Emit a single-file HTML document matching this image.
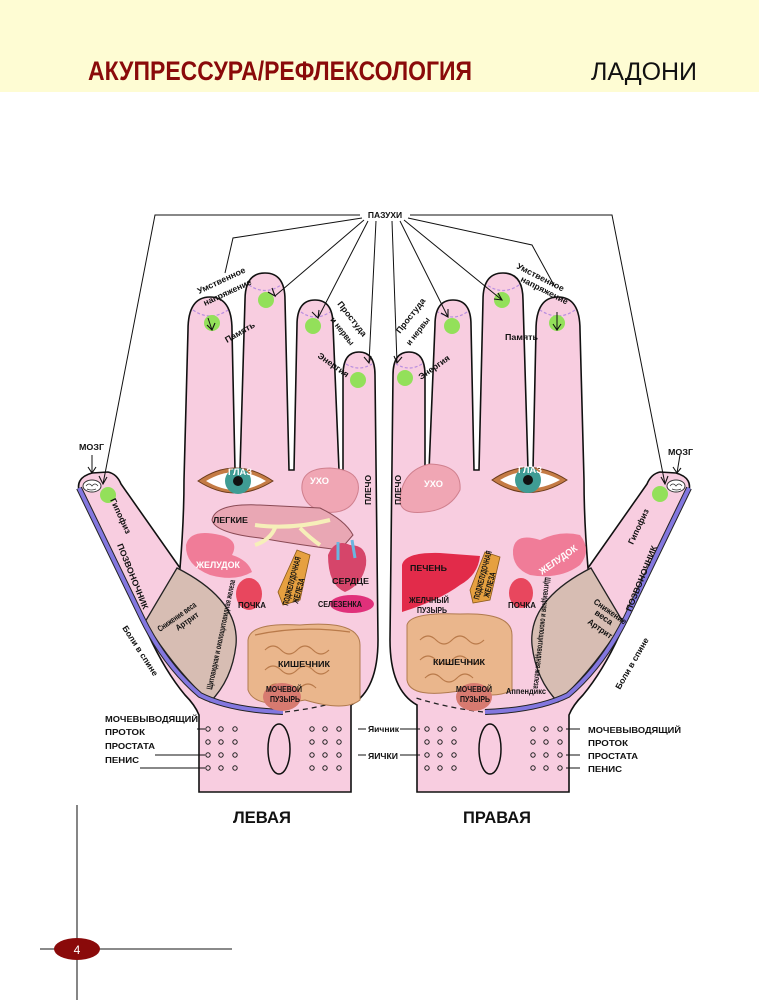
<!DOCTYPE html>
<html><head><meta charset="utf-8"><style>
html,body{margin:0;padding:0;background:#fff;}
svg{display:block;}
text{font-family:"Liberation Sans Narrow","Liberation Sans",sans-serif;font-weight:bold;}
.l{font-size:8.5px;fill:#111;}
.w{font-size:9.5px;fill:#fff;}
</style></head><body>
<svg width="759" height="1000" viewBox="0 0 759 1000" xmlns="http://www.w3.org/2000/svg">
<rect x="0" y="0" width="759" height="92" fill="#fefcd3"/>
<text x="88" y="80" font-size="27" fill="#8a0a0a" textLength="384" lengthAdjust="spacingAndGlyphs">АКУПРЕССУРА/РЕФЛЕКСОЛОГИЯ</text>
<text x="591" y="80" font-size="25" fill="#111" style="font-weight:normal;font-family:'Liberation Sans',sans-serif" textLength="106" lengthAdjust="spacing">ЛАДОНИ</text>

<defs>
<g id="hand">
<path d="M188,330 Q188,297 210,297 Q232,297 232,330 L235,470 L240,470 L245,300 Q245,273 265,273 Q285,273 285,300 L289,470 L294,470 L297,325 Q297,300 315,300 Q333,300 333,325 L339,470 L343,470 L343,375 Q343,352 359,352 Q375,352 375,375 L378,640 Q378,690 351,705 L351,792 L199,792 L199,715 Q195,705 185,695 Q160,665 140,615 L80,494 Q74,478 92,473 L108,472 Q117,474 121,484 L180,568 Q184,520 184,480 L188,330 Z" fill="#f8cde0" stroke="#111" stroke-width="1.6"/>
<path d="M177,568 Q240,600 236,645 Q232,680 210,702 Q175,670 145,622 Z" fill="#d7bdb3" stroke="#222" stroke-width="1.3"/>
<path d="M79,488 L142,618 Q165,665 200,695 Q230,710 283,712" fill="none" stroke="#222" stroke-width="6"/>
<path d="M79,488 L142,618 Q165,665 200,695 Q230,710 283,712" fill="none" stroke="#8377df" stroke-width="4"/>
<path d="M285,712 Q320,708 352,698" fill="none" stroke="#222" stroke-width="1.3" stroke-dasharray="5,4"/>
<g fill="none" stroke="#b98ee0" stroke-width="1.2" stroke-dasharray="3,2">
<path d="M193,310 Q210,322 228,310"/><path d="M249,285 Q265,296 281,285"/><path d="M301,312 Q315,322 330,312"/><path d="M346,364 Q359,372 372,364"/>
</g>
<ellipse cx="92" cy="486" rx="9" ry="6" fill="#fff" stroke="#333" stroke-width="1"/>
<path d="M86,486 q3,-4 6,0 q3,-4 6,0 M87,489 q4,2 9,0" stroke="#333" stroke-width="0.8" fill="none"/>
</g>
<g id="dots">
<circle cx="0" cy="0" r="2.2"/><circle cx="13" cy="0" r="2.2"/><circle cx="27" cy="0" r="2.2"/>
<circle cx="0" cy="13" r="2.2"/><circle cx="13" cy="13" r="2.2"/><circle cx="27" cy="13" r="2.2"/>
<circle cx="0" cy="26" r="2.2"/><circle cx="13" cy="26" r="2.2"/><circle cx="27" cy="26" r="2.2"/>
<circle cx="0" cy="39" r="2.2"/><circle cx="13" cy="39" r="2.2"/><circle cx="27" cy="39" r="2.2"/>
</g>
</defs>

<use href="#hand"/>
<use href="#hand" transform="translate(768,0) scale(-1,1)"/>

<g fill="#93e05a">
<circle cx="212" cy="323" r="8"/><circle cx="266" cy="300" r="8"/><circle cx="313" cy="326" r="8"/><circle cx="358" cy="380" r="8"/><circle cx="108" cy="495" r="8"/>
<circle cx="405" cy="378" r="8"/><circle cx="452" cy="326" r="8"/><circle cx="502" cy="300" r="8"/><circle cx="557" cy="323" r="8"/><circle cx="660" cy="494" r="8"/>
</g>

<g fill="none" stroke="#111" stroke-width="1">
<path d="M360,215 L155,215 L103,484"/>
<path d="M410,215 L612,215 L665,484"/>
<path d="M362,218 L233,238 L225,273"/>
<path d="M364,220 L275,296"/><path d="M368,221 L318,318"/><path d="M376,221 L369,363"/>
<path d="M392,221 L397,363"/><path d="M400,221 L448,317"/><path d="M404,220 L502,300"/>
<path d="M408,218 L532,245 L555,287"/>
<path d="M92,455 L92,473"/><path d="M680,455 L677,473"/>
<path d="M208,318 L212,330"/>
<path d="M557,312 L557,330"/>
</g>
<g fill="none" stroke="#111" stroke-width="1.1">
<path d="M268,292 L275,296 L272,288"/><path d="M312,312 L318,318 L319,310"/><path d="M364,357 L369,363 L371,356"/>
<path d="M394,356 L397,363 L402,357"/><path d="M441,313 L448,317 L448,309"/><path d="M494,299 L502,300 L498,293"/>
<path d="M88,467 L92,473 L96,467"/><path d="M673,467 L677,473 L681,468"/>
<path d="M207,325 L212,330 L215,323"/><path d="M553,324 L557,330 L561,324"/>
<path d="M99,476 L103,484 L107,477"/><path d="M661,477 L665,484 L668,476"/>
</g>
<text x="385" y="218" text-anchor="middle" class="l" font-size="9.5">ПАЗУХИ</text>

<text class="l" transform="translate(199,294) rotate(-25)" textLength="52" lengthAdjust="spacingAndGlyphs">Умственное</text>
<text class="l" transform="translate(205,306) rotate(-25)" textLength="52" lengthAdjust="spacingAndGlyphs">напряжение</text>
<text class="l" transform="translate(227,343) rotate(-30)" textLength="33" lengthAdjust="spacingAndGlyphs">Память</text>
<text class="l" transform="translate(337,304) rotate(52)" textLength="42" lengthAdjust="spacingAndGlyphs">Простуда</text>
<text class="l" transform="translate(330,320) rotate(52)" textLength="33" lengthAdjust="spacingAndGlyphs">и нервы</text>
<text class="l" transform="translate(317,357) rotate(35)" textLength="36" lengthAdjust="spacingAndGlyphs">Энергия</text>
<text class="l" transform="translate(400,334) rotate(-52)" textLength="42" lengthAdjust="spacingAndGlyphs">Простуда</text>
<text class="l" transform="translate(410,346) rotate(-52)" textLength="33" lengthAdjust="spacingAndGlyphs">и нервы</text>
<text class="l" transform="translate(421,380) rotate(-35)" textLength="36" lengthAdjust="spacingAndGlyphs">Энергия</text>
<text class="l" transform="translate(516,268) rotate(27)" textLength="52" lengthAdjust="spacingAndGlyphs">Умственное</text>
<text class="l" transform="translate(520,281) rotate(27)" textLength="52" lengthAdjust="spacingAndGlyphs">напряжение</text>
<text class="l" x="505" y="340" textLength="33" lengthAdjust="spacingAndGlyphs">Память</text>

<!-- left organs -->
<path d="M198,481 Q235,455 273,481 Q235,505 198,481 Z" fill="#c47b45" stroke="#6a3a1a"/>
<path d="M206,481 Q236,463 266,481 Q236,499 206,481 Z" fill="#fff"/>
<circle cx="238" cy="481" r="13" fill="#3f9c94"/><circle cx="238" cy="481" r="5" fill="#111"/>
<path d="M302,490 Q300,468 330,468 Q362,470 358,492 Q352,515 325,512 Q305,508 302,490 Z" fill="#f0a6b4" stroke="#d0808e"/>
<path d="M212,520 Q215,503 260,505 L320,508 Q345,520 353,535 L340,550 Q300,545 260,538 Q215,533 212,520 Z" fill="#e9a7b4" stroke="#8a4a55"/>
<path d="M255,525 Q290,530 330,520 M275,528 Q270,540 255,545 M300,528 Q310,538 320,545" stroke="#f6efb9" stroke-width="4" fill="none"/>
<path d="M186,545 Q190,528 220,535 Q240,540 232,555 Q248,560 252,572 Q235,582 210,575 Q185,565 186,545 Z" fill="#f07c98"/>
<ellipse cx="249" cy="594" rx="13" ry="16" fill="#e8475e"/>
<path d="M283,605 L278,592 L297,550 L310,555 L300,600 Z" fill="#e6a040" stroke="#8b5a1a" stroke-width="0.8"/>
<path d="M328,555 Q335,538 350,545 Q368,545 366,565 Q362,585 345,592 Q328,585 328,555 Z" fill="#d6456a"/>
<path d="M338,542 L338,560 M352,540 L355,558" stroke="#6ab6e0" stroke-width="3"/>
<ellipse cx="352" cy="604" rx="22" ry="9" fill="#e0307a"/>
<path d="M248,640 Q250,622 300,625 Q360,620 360,645 L360,700 Q345,712 305,700 Q255,710 248,690 Z" fill="#eab68c" stroke="#b07a4e"/>
<path d="M265,650 q8,-8 16,0 q8,8 16,0 q8,-8 16,0 q8,8 16,0 M265,670 q8,-8 16,0 q8,8 16,0 q8,-8 16,0 q8,8 16,0 M268,688 q8,-8 16,0 q8,8 16,0 q8,-8 16,0 M255,635 Q300,625 350,632" stroke="#b97a4a" stroke-width="1.2" fill="none"/>
<ellipse cx="282" cy="697" rx="19" ry="14" fill="#d77a70"/>

<text x="228" y="475" class="w" textLength="24" lengthAdjust="spacingAndGlyphs">ГЛАЗ</text>
<text x="310" y="484" class="w" textLength="19" lengthAdjust="spacingAndGlyphs">УХО</text>
<text x="196" y="568" class="w" textLength="44" lengthAdjust="spacingAndGlyphs">ЖЕЛУДОК</text>
<text class="l" transform="translate(371,505) rotate(-90)" textLength="30" lengthAdjust="spacingAndGlyphs">ПЛЕЧО</text>
<text class="l" x="213" y="523" font-size="9.5" textLength="35" lengthAdjust="spacingAndGlyphs">ЛЕГКИЕ</text>
<text class="l" x="238" y="608" font-size="8" textLength="28" lengthAdjust="spacingAndGlyphs">ПОЧКА</text>
<text class="l" transform="translate(288,606) rotate(-75)" font-size="7" textLength="50" lengthAdjust="spacingAndGlyphs">ПОДЖЕЛУДОЧНАЯ</text>
<text class="l" transform="translate(298,604) rotate(-75)" font-size="7" textLength="26" lengthAdjust="spacingAndGlyphs">ЖЕЛЕЗА</text>
<text class="l" x="332" y="584" font-size="10.5" textLength="37" lengthAdjust="spacingAndGlyphs">СЕРДЦЕ</text>
<text class="l" x="318" y="607" font-size="8" textLength="44" lengthAdjust="spacingAndGlyphs">СЕЛЕЗЕНКА</text>
<text class="l" x="278" y="667" font-size="10.5" textLength="52" lengthAdjust="spacingAndGlyphs">КИШЕЧНИК</text>
<text class="l" x="266" y="692" font-size="8" textLength="36" lengthAdjust="spacingAndGlyphs">МОЧЕВОЙ</text>
<text class="l" x="270" y="702" font-size="8" textLength="30" lengthAdjust="spacingAndGlyphs">ПУЗЫРЬ</text>
<text class="l" x="79" y="450" textLength="25" lengthAdjust="spacingAndGlyphs">МОЗГ</text>
<text class="l" transform="translate(110,500) rotate(65)" textLength="38" lengthAdjust="spacingAndGlyphs">Гипофиз</text>
<text class="l" transform="translate(117,545) rotate(68)" font-size="10" textLength="70" lengthAdjust="spacingAndGlyphs">ПОЗВОНОЧНИК</text>
<text class="l" transform="translate(122,628) rotate(57)" textLength="58" lengthAdjust="spacingAndGlyphs">Боли в спине</text>
<text class="l" transform="translate(160,632) rotate(-35)" font-size="8" textLength="45" lengthAdjust="spacingAndGlyphs">Снижение веса</text>
<text class="l" transform="translate(178,631) rotate(-35)" font-size="8" textLength="26" lengthAdjust="spacingAndGlyphs">Артрит</text>
<text class="l" transform="translate(212,690) rotate(-78)" font-size="7" textLength="112" lengthAdjust="spacingAndGlyphs">Щитовидная и околощитовидная железа</text>

<!-- right organs -->
<path d="M492,480 Q528,455 567,480 Q528,505 492,480 Z" fill="#c47b45" stroke="#6a3a1a"/>
<path d="M500,480 Q528,463 560,480 Q528,497 500,480 Z" fill="#fff"/>
<circle cx="528" cy="480" r="13" fill="#3f9c94"/><circle cx="528" cy="480" r="5" fill="#111"/>
<path d="M400,500 Q402,470 430,464 Q462,465 460,490 Q450,510 425,512 Q400,515 400,500 Z" fill="#f0a6b4" stroke="#d0808e"/>
<path d="M513,550 Q515,532 540,540 Q560,530 580,535 Q592,550 580,565 Q560,580 530,575 Q512,568 513,550 Z" fill="#f07c98"/>
<path d="M402,565 Q405,552 440,553 L480,556 Q478,575 460,585 Q440,600 402,612 Z" fill="#e22b4a"/>
<path d="M473,603 L470,590 L485,552 L500,557 L490,600 Z" fill="#e6a040" stroke="#8b5a1a" stroke-width="0.8"/>
<ellipse cx="521" cy="593" rx="12" ry="15" fill="#e8475e"/>
<path d="M407,625 Q410,612 460,614 Q512,612 512,635 L512,690 Q495,700 465,690 Q410,700 407,680 Z" fill="#eab68c" stroke="#b07a4e"/>
<path d="M420,640 q8,-8 16,0 q8,8 16,0 q8,-8 16,0 q8,8 16,0 M420,660 q8,-8 16,0 q8,8 16,0 q8,-8 16,0 q8,8 16,0 M425,678 q8,-8 16,0 q8,8 16,0 q8,-8 16,0" stroke="#b97a4a" stroke-width="1.2" fill="none"/>
<ellipse cx="474" cy="697" rx="18" ry="14" fill="#d77a70"/>

<text x="518" y="473" class="w" textLength="24" lengthAdjust="spacingAndGlyphs">ГЛАЗ</text>
<text x="424" y="487" class="w" textLength="19" lengthAdjust="spacingAndGlyphs">УХО</text>
<text class="w" transform="translate(542,575) rotate(-35)" textLength="44" lengthAdjust="spacingAndGlyphs">ЖЕЛУДОК</text>
<text class="l" transform="translate(401,505) rotate(-90)" textLength="30" lengthAdjust="spacingAndGlyphs">ПЛЕЧО</text>
<text class="l" x="410" y="571" font-size="10.5" textLength="37" lengthAdjust="spacingAndGlyphs">ПЕЧЕНЬ</text>
<text class="l" x="409" y="603" font-size="8" textLength="40" lengthAdjust="spacingAndGlyphs">ЖЕЛЧНЫЙ</text>
<text class="l" x="417" y="613" font-size="8" textLength="30" lengthAdjust="spacingAndGlyphs">ПУЗЫРЬ</text>
<text class="l" transform="translate(479,600) rotate(-75)" font-size="7" textLength="50" lengthAdjust="spacingAndGlyphs">ПОДЖЕЛУДОЧНАЯ</text>
<text class="l" transform="translate(489,598) rotate(-75)" font-size="7" textLength="26" lengthAdjust="spacingAndGlyphs">ЖЕЛЕЗА</text>
<text class="l" x="508" y="608" font-size="8" textLength="28" lengthAdjust="spacingAndGlyphs">ПОЧКА</text>
<text class="l" x="433" y="665" font-size="10.5" textLength="52" lengthAdjust="spacingAndGlyphs">КИШЕЧНИК</text>
<text class="l" x="456" y="692" font-size="8" textLength="36" lengthAdjust="spacingAndGlyphs">МОЧЕВОЙ</text>
<text class="l" x="460" y="702" font-size="8" textLength="30" lengthAdjust="spacingAndGlyphs">ПУЗЫРЬ</text>
<text class="l" x="506" y="694" font-size="7.5" textLength="40" lengthAdjust="spacingAndGlyphs">Аппендикс</text>
<text class="l" x="668" y="455" textLength="25" lengthAdjust="spacingAndGlyphs">МОЗГ</text>
<text class="l" transform="translate(633,545) rotate(-65)" textLength="38" lengthAdjust="spacingAndGlyphs">Гипофиз</text>
<text class="l" transform="translate(631,612) rotate(-68)" font-size="10" textLength="70" lengthAdjust="spacingAndGlyphs">ПОЗВОНОЧНИК</text>
<text class="l" transform="translate(620,690) rotate(-60)" textLength="58" lengthAdjust="spacingAndGlyphs">Боли в спине</text>
<text class="l" transform="translate(593,603) rotate(35)" font-size="8" textLength="38" lengthAdjust="spacingAndGlyphs">Снижение</text>
<text class="l" transform="translate(594,614) rotate(35)" font-size="8" textLength="20" lengthAdjust="spacingAndGlyphs">веса</text>
<text class="l" transform="translate(587,623) rotate(35)" font-size="8" textLength="28" lengthAdjust="spacingAndGlyphs">Артрит</text>
<text class="l" transform="translate(545,577) rotate(96)" font-size="7" textLength="112" lengthAdjust="spacingAndGlyphs">Щитовидная и околощитовидная железа</text>

<!-- wrists -->
<g fill="none" stroke="#111" stroke-width="1.5">
<ellipse cx="279" cy="749" rx="11" ry="25"/>
<ellipse cx="490" cy="749" rx="11" ry="25"/>
</g>
<g fill="none" stroke="#222" stroke-width="1">
<use href="#dots" transform="translate(208,729)"/>
<use href="#dots" transform="translate(312,729)"/>
<use href="#dots" transform="translate(427,729)"/>
<use href="#dots" transform="translate(533,729)"/>
</g>
<g stroke="#111" stroke-width="1">
<path d="M197,729 L205,729 M155,755 L205,755 M140,768 L205,768"/>
<path d="M358,729 L366,729 M400,729 L420,729 M358,755 L366,755 M400,755 L420,755"/>
<path d="M566,729 L580,729 M566,755 L580,755 M566,768 L580,768"/>
</g>
<text x="105" y="722" class="l" font-size="10" textLength="93" lengthAdjust="spacingAndGlyphs">МОЧЕВЫВОДЯЩИЙ</text>
<text x="105" y="735" class="l" font-size="10" textLength="40" lengthAdjust="spacingAndGlyphs">ПРОТОК</text>
<text x="105" y="749" class="l" font-size="10" textLength="50" lengthAdjust="spacingAndGlyphs">ПРОСТАТА</text>
<text x="105" y="763" class="l" font-size="10" textLength="34" lengthAdjust="spacingAndGlyphs">ПЕНИС</text>
<text x="368" y="732" class="l" font-size="8.5" textLength="31" lengthAdjust="spacingAndGlyphs">Яичник</text>
<text x="368" y="759" class="l" font-size="9.5" textLength="30" lengthAdjust="spacingAndGlyphs">ЯИЧКИ</text>
<text x="588" y="733" class="l" font-size="10" textLength="93" lengthAdjust="spacingAndGlyphs">МОЧЕВЫВОДЯЩИЙ</text>
<text x="588" y="746" class="l" font-size="10" textLength="40" lengthAdjust="spacingAndGlyphs">ПРОТОК</text>
<text x="588" y="759" class="l" font-size="10" textLength="50" lengthAdjust="spacingAndGlyphs">ПРОСТАТА</text>
<text x="588" y="772" class="l" font-size="10" textLength="34" lengthAdjust="spacingAndGlyphs">ПЕНИС</text>

<text x="262" y="823" text-anchor="middle" font-size="17" fill="#111" textLength="58" lengthAdjust="spacingAndGlyphs">ЛЕВАЯ</text>
<text x="497" y="823" text-anchor="middle" font-size="17" fill="#111" textLength="68" lengthAdjust="spacingAndGlyphs">ПРАВАЯ</text>

<line x1="77" y1="805" x2="77" y2="1000" stroke="#444" stroke-width="1.3"/>
<line x1="40" y1="949" x2="232" y2="949" stroke="#444" stroke-width="1.3"/>
<ellipse cx="77" cy="949" rx="23" ry="11" fill="#8a0a0a"/>
<text x="77" y="954" text-anchor="middle" font-size="12" fill="#fff" style="font-weight:normal">4</text>
</svg>
</body></html>
